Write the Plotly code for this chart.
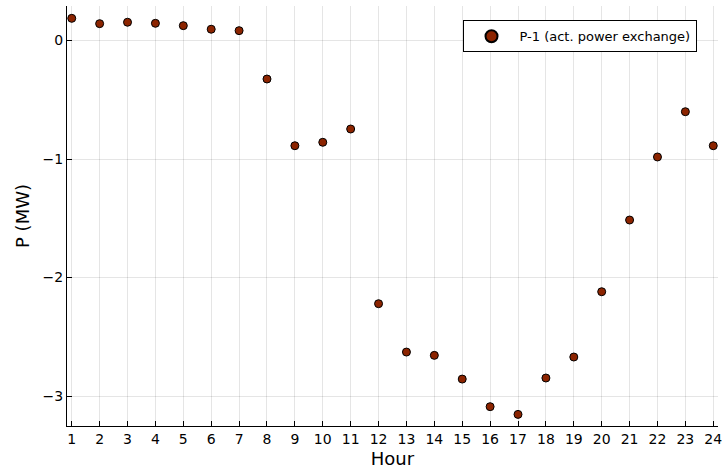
import plotly.graph_objects as go

hours = list(range(1, 25))
power = [0.187, 0.142, 0.154, 0.145, 0.125, 0.095, 0.083, -0.325,
         -0.888, -0.859, -0.747, -2.221, -2.629, -2.657, -2.857, -3.090,
         -3.155, -2.848, -2.671, -2.120, -1.515, -0.983, -0.601, -0.888]
series_name = "P-1 (act. power exchange)"
y_ticks = [0, -1, -2, -3]
y_tick_labels = ["0", "\u22121", "\u22122", "\u22123"]

fig = go.Figure()
fig.add_trace(go.Scatter(
    x=hours, y=power, mode="markers", name=series_name,
    marker=dict(size=8, color="#8c2400", line=dict(color="black", width=1)),
))

font = "DejaVu Sans"
fig.update_layout(
    width=722, height=472,
    margin=dict(l=67, r=0, t=6, b=46),
    paper_bgcolor="white", plot_bgcolor="white",
    font=dict(family=font, size=14, color="black"),
    showlegend=True,
    legend=dict(
        x=0.967, xanchor="right", y=0.966, yanchor="top",
        bgcolor="white", bordercolor="black", borderwidth=1,
        font=dict(family=font, size=13, color="black"),
        itemwidth=46, itemsizing="constant", tracegroupgap=0,
    ),
)
fig.update_xaxes(
    range=[0.83, 24.17], tickmode="linear", tick0=1, dtick=1,
    showgrid=True, gridcolor="rgba(0,0,0,0.1)", gridwidth=1,
    showline=True, linecolor="black", linewidth=1,
    ticks="inside", ticklen=5, tickcolor="black",
    zeroline=False, mirror=False, ticklabeloverflow="allow",
    title=dict(text="Hour", font=dict(size=18), standoff=6),
    tickfont=dict(size=14),
)
fig.update_yaxes(
    range=[-3.253, 0.291], tickvals=y_ticks, ticktext=y_tick_labels,
    showgrid=True, gridcolor="rgba(0,0,0,0.1)", gridwidth=1,
    showline=True, linecolor="black", linewidth=1,
    ticks="inside", ticklen=5, tickcolor="black",
    zeroline=False, mirror=False,
    title=dict(text="P (MW)", font=dict(size=18), standoff=8),
    tickfont=dict(size=14),
)
fig.write_html("out.html")
